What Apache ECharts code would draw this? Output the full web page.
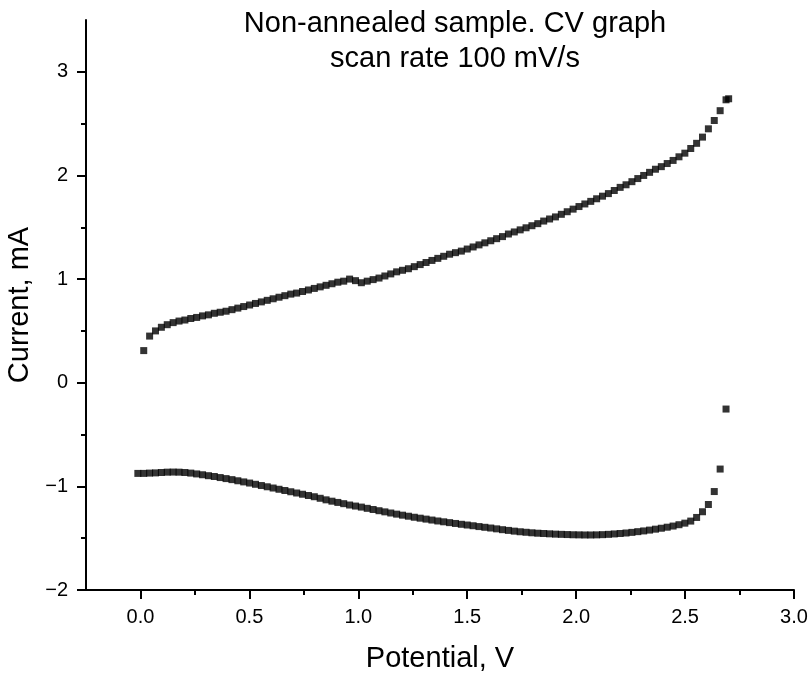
<!DOCTYPE html>
<html>
<head>
<meta charset="utf-8">
<script src="https://cdn.jsdelivr.net/npm/echarts@6/dist/echarts.min.js"></script>
<style>
html,body{margin:0;padding:0;background:#fff;}
#chart{width:811px;height:677px;}
</style>
</head>
<body>
<div id="chart"></div>
<script>
// Potential (V) grid shared by both sweeps
var potential = [
  -0.012, 0.015, 0.042, 0.069, 0.096, 0.123, 0.150, 0.177, 0.204, 0.231, 0.258,
  0.285, 0.312, 0.339, 0.366, 0.393, 0.420, 0.447, 0.474, 0.501, 0.528,
  0.555, 0.582, 0.609, 0.636, 0.663, 0.690, 0.717, 0.744, 0.771, 0.798,
  0.825, 0.852, 0.879, 0.906, 0.933, 0.960, 0.987, 1.014, 1.041, 1.068,
  1.095, 1.122, 1.149, 1.176, 1.203, 1.230, 1.257, 1.284, 1.311, 1.338,
  1.365, 1.392, 1.419, 1.446, 1.473, 1.500, 1.527, 1.554, 1.581, 1.608,
  1.635, 1.662, 1.689, 1.716, 1.743, 1.770, 1.797, 1.824, 1.851, 1.878,
  1.905, 1.932, 1.959, 1.986, 2.013, 2.040, 2.067, 2.094, 2.121, 2.148,
  2.175, 2.202, 2.229, 2.256, 2.283, 2.310, 2.337, 2.364, 2.391, 2.418,
  2.445, 2.472, 2.499, 2.526, 2.553, 2.580, 2.607, 2.634, 2.661, 2.688, 2.700
];
// Anodic (forward) sweep current, mA
var forwardCurrent = [
  null, 0.31, 0.45, 0.50, 0.535, 0.56, 0.58, 0.595, 0.605, 0.62, 0.63,
  0.645, 0.655, 0.67, 0.68, 0.69, 0.705, 0.72, 0.735, 0.75, 0.765,
  0.78, 0.795, 0.81, 0.825, 0.84, 0.855, 0.865, 0.88, 0.895, 0.91,
  0.925, 0.94, 0.955, 0.97, 0.98, 1.00, 0.985, 0.965, 0.98, 0.995,
  1.01, 1.03, 1.05, 1.07, 1.085, 1.10, 1.12, 1.14, 1.16, 1.18,
  1.20, 1.22, 1.24, 1.255, 1.27, 1.29, 1.31, 1.33, 1.35, 1.37,
  1.39, 1.41, 1.435, 1.455, 1.475, 1.495, 1.515, 1.535, 1.56, 1.58,
  1.60, 1.625, 1.65, 1.675, 1.70, 1.725, 1.75, 1.775, 1.80, 1.825,
  1.855, 1.885, 1.91, 1.94, 1.97, 2.00, 2.03, 2.06, 2.085, 2.115,
  2.145, 2.18, 2.215, 2.26, 2.31, 2.37, 2.45, 2.53, 2.625, 2.73, 2.74
];
// Cathodic (reverse) sweep current, mA
var reverseCurrent = [
  -0.875, -0.875, -0.872, -0.87, -0.866, -0.863, -0.862, -0.863, -0.866, -0.872, -0.88,
  -0.888, -0.897, -0.905, -0.915, -0.925, -0.935, -0.946, -0.957, -0.968, -0.98,
  -0.992, -1.004, -1.016, -1.028, -1.04, -1.052, -1.064, -1.076, -1.088, -1.10,
  -1.115, -1.13, -1.143, -1.155, -1.167, -1.18, -1.19, -1.20, -1.212, -1.223,
  -1.235, -1.246, -1.257, -1.268, -1.278, -1.288, -1.298, -1.307, -1.316, -1.325,
  -1.334, -1.342, -1.35, -1.358, -1.366, -1.373, -1.38, -1.388, -1.395, -1.402,
  -1.41, -1.418, -1.425, -1.432, -1.438, -1.443, -1.448, -1.452, -1.455, -1.458,
  -1.461, -1.463, -1.465, -1.467, -1.468, -1.469, -1.469, -1.468, -1.466, -1.463,
  -1.459, -1.455, -1.45, -1.444, -1.437, -1.43, -1.422, -1.413, -1.404, -1.394,
  -1.383, -1.37, -1.355, -1.335, -1.30, -1.245, -1.175, -1.05, -0.833, -0.254, null
];
var xMajorTicks = [0, 0.5, 1.0, 1.5, 2.0, 2.5, 3.0];
var xMinorTicks = [0.25, 0.75, 1.25, 1.75, 2.25, 2.75];
var yMajorTicks = [-2, -1, 0, 1, 2, 3];
var yMinorTicks = [-1.5, -0.5, 0.5, 1.5, 2.5];
var titleText = 'Non-annealed sample. CV graph\nscan rate 100 mV/s';
var xName = 'Potential, V';
var yName = 'Current, mA';

function pairs(xs, ys) {
  var out = [];
  for (var i = 0; i < xs.length; i++) {
    if (ys[i] !== null) out.push([xs[i], ys[i]]);
  }
  return out;
}

var FONT = '"Liberation Sans", Arial, sans-serif';
var axisStyle = { color: '#000', width: 2 };

var chart = echarts.init(document.getElementById('chart'), null, { renderer: 'canvas' });
chart.setOption({
  animation: false,
  backgroundColor: '#fff',
  title: {
    text: titleText,
    left: 450,
    top: 1,
    textAlign: 'center',
    textStyle: { fontFamily: FONT, fontSize: 29, fontWeight: 'normal', color: '#000', lineHeight: 35 }
  },
  grid: { left: 86, right: 17, top: 20, bottom: 87, containLabel: false, outerBoundsMode: 'none' },
  xAxis: [
    {
      type: 'value', min: -0.25, max: 3.0, position: 'bottom',
      name: xName, nameLocation: 'middle', nameGap: 54,
      nameTextStyle: { fontFamily: FONT, fontSize: 29, color: '#000' },
      axisLine: { show: true, onZero: false, lineStyle: axisStyle },
      axisTick: { show: true, customValues: xMajorTicks, length: 9, lineStyle: axisStyle },
      axisLabel: { customValues: xMajorTicks, margin: 17, fontFamily: FONT, fontSize: 20, color: '#000',
        formatter: function (v) { return Number(v).toFixed(1); } },
      splitLine: { show: false }
    },
    {
      type: 'value', min: -0.25, max: 3.0, position: 'bottom',
      axisLine: { show: false, onZero: false },
      axisTick: { show: true, customValues: xMinorTicks, length: 5, lineStyle: axisStyle },
      axisLabel: { show: false },
      splitLine: { show: false }
    }
  ],
  yAxis: [
    {
      type: 'value', min: -2, max: 3.5, position: 'left',
      name: yName, nameLocation: 'middle', nameGap: 42,
      nameTextStyle: { fontFamily: FONT, fontSize: 29, color: '#000' },
      axisLine: { show: true, onZero: false, lineStyle: axisStyle },
      axisTick: { show: true, customValues: yMajorTicks, length: 9, lineStyle: axisStyle },
      axisLabel: { customValues: yMajorTicks, margin: 18, fontFamily: FONT, fontSize: 20, color: '#000',
        formatter: function (v) { return String(v).replace('-', '\u2212'); } },
      splitLine: { show: false }
    },
    {
      type: 'value', min: -2, max: 3.5, position: 'left',
      axisLine: { show: false, onZero: false },
      axisTick: { show: true, customValues: yMinorTicks, length: 5, lineStyle: axisStyle },
      axisLabel: { show: false },
      splitLine: { show: false }
    }
  ],
  series: [
    {
      name: 'forward', type: 'scatter', xAxisIndex: 0, yAxisIndex: 0,
      symbol: 'rect', symbolSize: 7,
      itemStyle: { color: '#000' },
      data: pairs(potential, forwardCurrent)
    },
    {
      name: 'reverse', type: 'scatter', xAxisIndex: 0, yAxisIndex: 0,
      symbol: 'rect', symbolSize: 7,
      itemStyle: { color: '#000' },
      data: pairs(potential, reverseCurrent)
    }
  ]
});
</script>
</body>
</html>
